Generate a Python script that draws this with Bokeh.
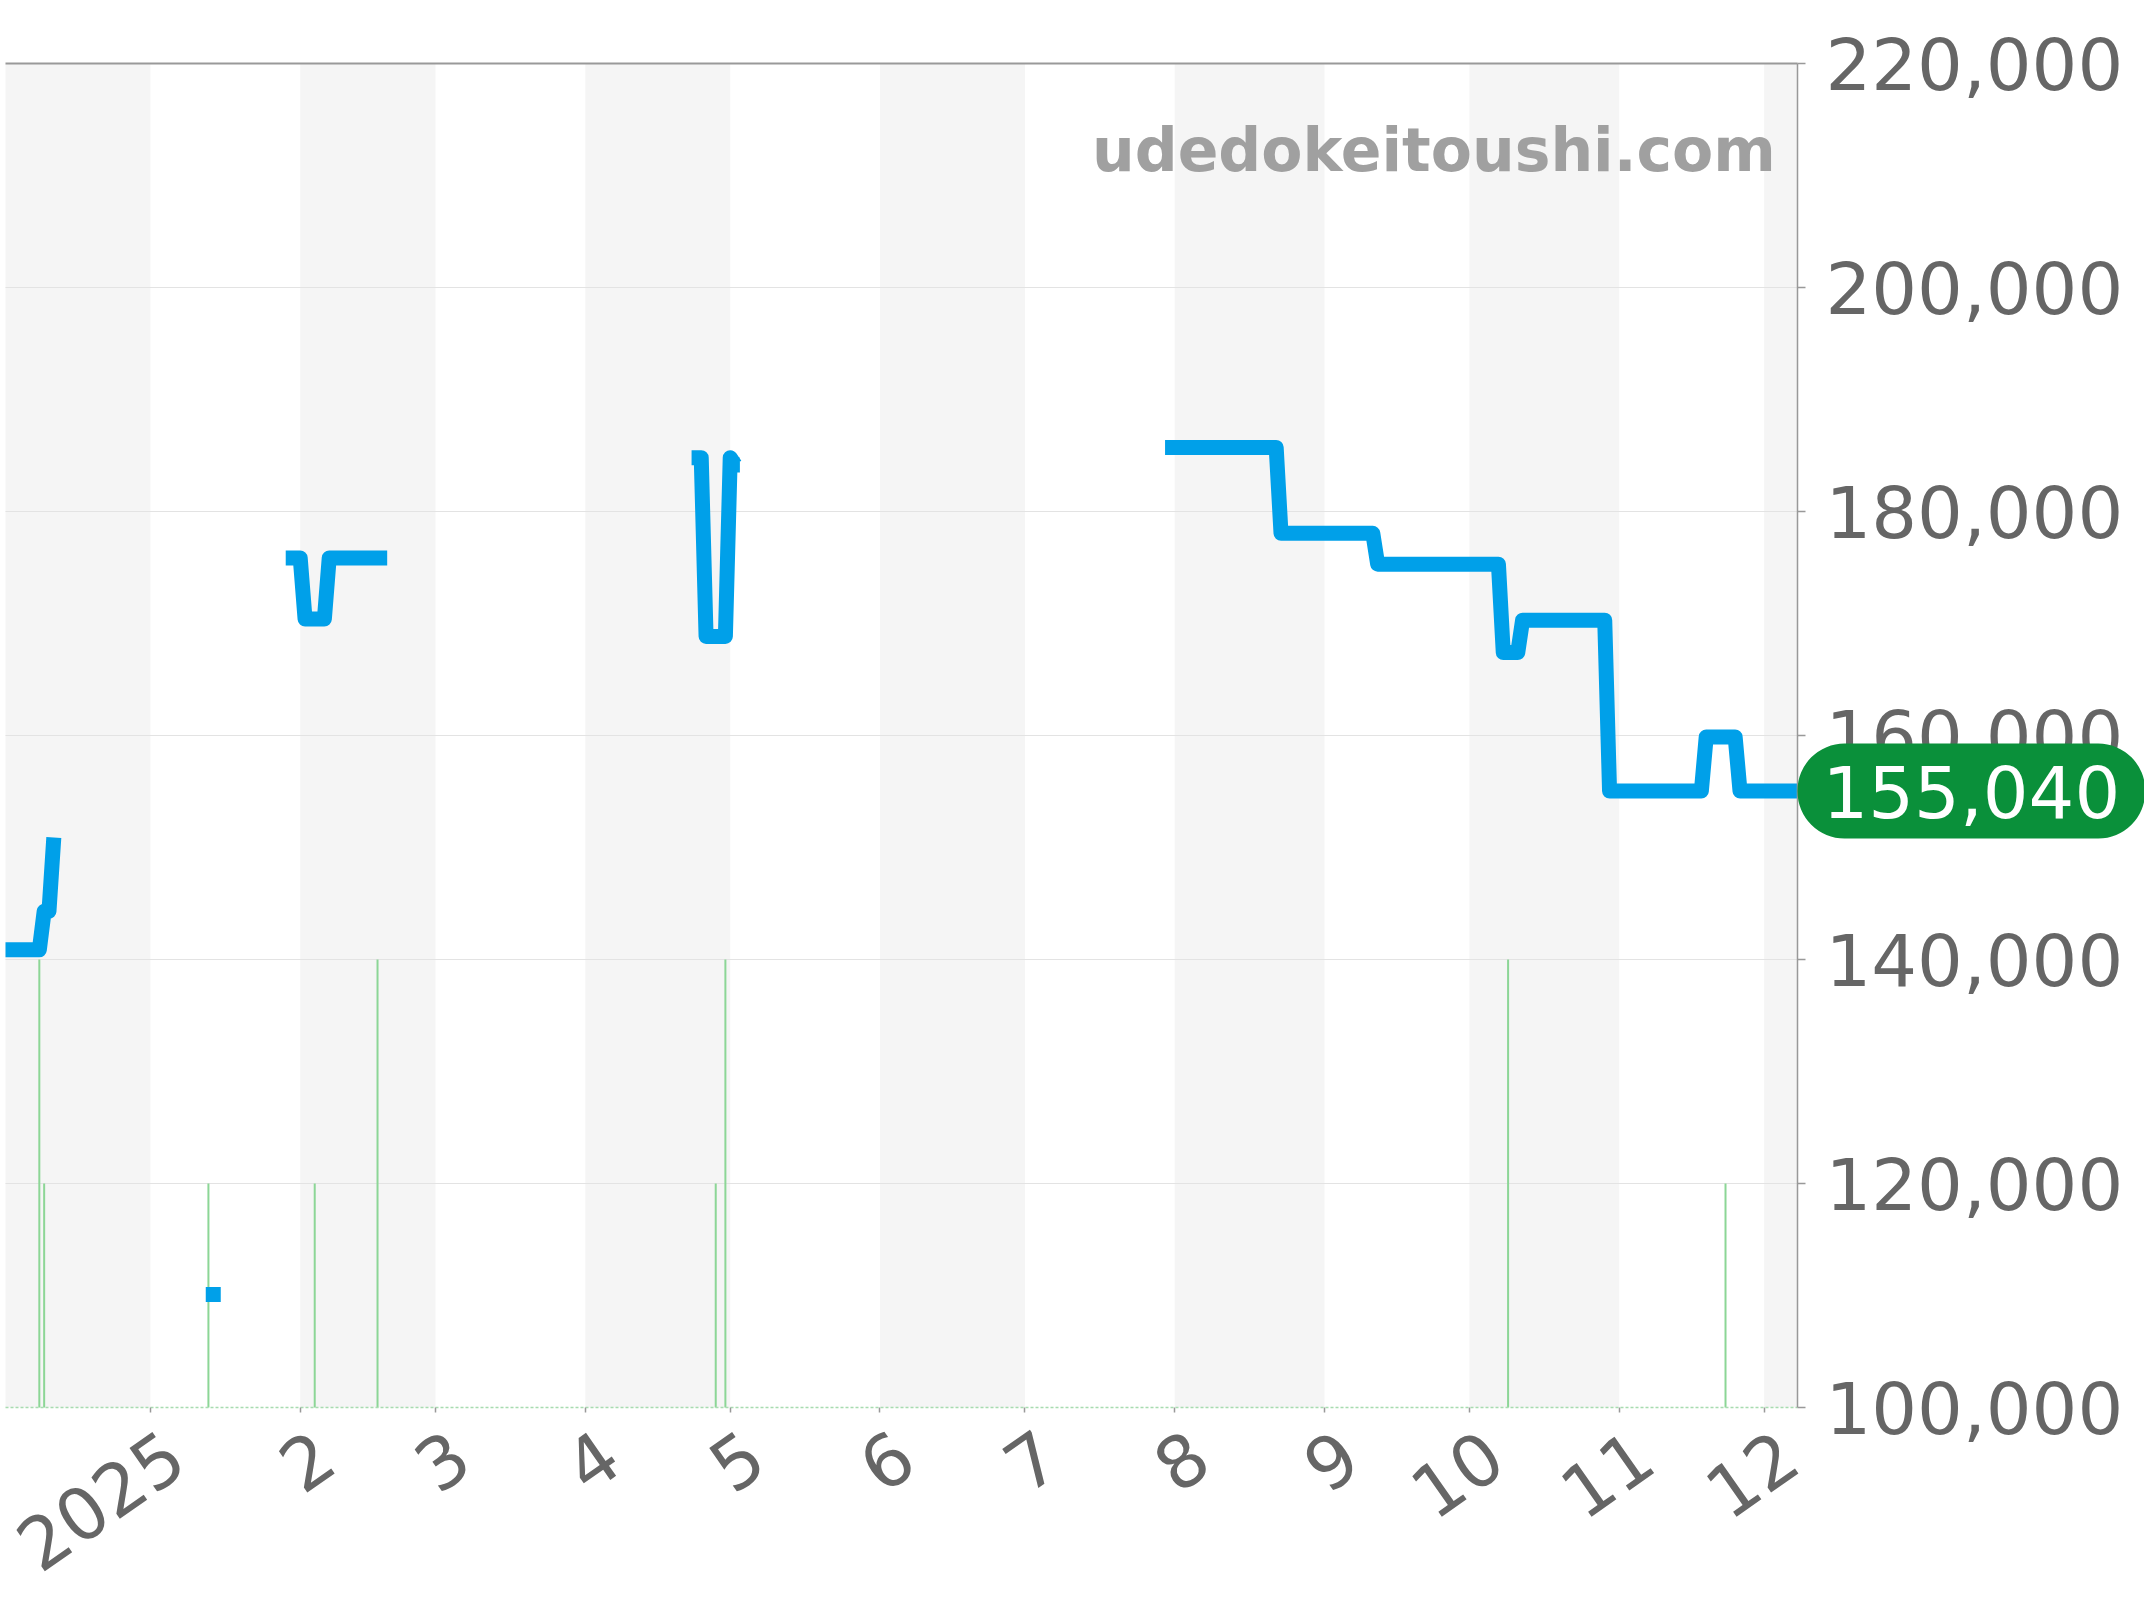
import numpy as np
import pandas as pd
from datetime import datetime
from bokeh.plotting import figure
from bokeh.models import (ColumnDataSource, Range1d, LinearAxis, FixedTicker, CustomJSTickFormatter,
                          NumeralTickFormatter, BoxAnnotation, Label)
from bokeh.embed import file_html
from bokeh.resources import INLINE

nan = np.nan

# ---- price series (gaps marked with nan) ----
price_dates = [
    "2024-12-02", "2024-12-09", "2024-12-10", "2024-12-11", "2024-12-12", "2024-12-12",
    "2025-01-29", "2025-02-01", "2025-02-02", "2025-02-06", "2025-02-07", "2025-02-19", "2025-02-19",
    "2025-04-23", "2025-04-25", "2025-04-26", "2025-04-30", "2025-05-01", "2025-05-02", "2025-05-03", "2025-05-03",
    "2025-07-30", "2025-08-22", "2025-08-23", "2025-09-11", "2025-09-12", "2025-10-07",
    "2025-10-08", "2025-10-11", "2025-10-12", "2025-10-29", "2025-10-30", "2025-11-18",
    "2025-11-19", "2025-11-25", "2025-11-26", "2025-12-08",
]
price_values = [
    140870, 140870, 144300, 144300, 150900, nan,
    175850, 175850, 170400, 170400, 175850, 175850, nan,
    184800, 184800, 168850, 168850, 184800, 184150, 184150, nan,
    185720, 185720, 178050, 178050, 175300, 175300,
    167400, 167400, 170300, 170300, 155040, 155040,
    159860, 159860, 155040, 155040,
]

# isolated single-day points
single_dates = ["2025-01-14"]
single_values = [110100]

# ---- listing counts (green bars, secondary scale) ----
count_dates = ["2024-12-09", "2024-12-10", "2025-01-13", "2025-02-04", "2025-02-17",
               "2025-04-28", "2025-04-30", "2025-10-09", "2025-11-23"]
count_values = [2, 1, 1, 1, 2, 1, 2, 2, 1]

# ---- axes ----
month_ticks = ["2025-01-01", "2025-02-01", "2025-03-01", "2025-04-01", "2025-05-01", "2025-06-01",
               "2025-07-01", "2025-08-01", "2025-09-01", "2025-10-01", "2025-11-01", "2025-12-01"]
tick_labels = ["2025", "2", "3", "4", "5", "6", "7", "8", "9", "10", "11", "12"]
y_ticks = [100000, 120000, 140000, 160000, 180000, 200000, 220000]

band_starts = ["2024-12-01", "2025-02-01", "2025-04-01", "2025-06-01", "2025-08-01", "2025-10-01", "2025-12-01"]
band_ends = ["2025-01-01", "2025-03-01", "2025-05-01", "2025-07-01", "2025-09-01", "2025-11-01", "2026-01-01"]

watermark = "udedokeitoushi.com"

DAY_MS = 86400000.0


def ms(d):
    return (pd.Timestamp(d) - pd.Timestamp("1970-01-01")).total_seconds() * 1000.0


# ---- layout: the frame covers the whole canvas; the plotting window sits inside it ----
x_start = datetime(2024, 12, 2, 0, 0)
x_end = datetime(2025, 12, 7, 21, 36)
y_lo, y_hi = y_ticks[0], y_ticks[-1]
W, H = 2144, 1600
LEFT, TOP, BOTTOM = 5, 63, 193          # margins of the plotting window inside the canvas
PLOT_W, PLOT_H = 1792, 1344             # size of the plotting window in px
COUNT_UNIT = 20000                      # one listing = one grid step on the price scale

px_per_day = PLOT_W / ((ms(x_end) - ms(x_start)) / DAY_MS)
px_per_yen = PLOT_H / (y_hi - y_lo)
frame_x0 = ms(x_start) - LEFT / px_per_day * DAY_MS
frame_x1 = ms(x_start) + (W - LEFT) / px_per_day * DAY_MS
frame_y0 = y_lo - BOTTOM / px_per_yen
frame_y1 = y_hi + TOP / px_per_yen
label_shift_ms = 25 / px_per_day * DAY_MS   # rotated month labels sit ~25px right of their tick

p = figure(width=W, height=H, x_axis_type="datetime", y_axis_location="right",
           x_range=Range1d(frame_x0, frame_x1), y_range=Range1d(frame_y0, frame_y1),
           output_backend="svg", toolbar_location=None,
           min_border_left=0, min_border_right=0, min_border_top=0, min_border_bottom=0,
           background_fill_color="white", border_fill_color="white", outline_line_color=None)
p.extra_y_ranges = {"count": Range1d((frame_y0 - y_lo) / COUNT_UNIT, (frame_y1 - y_lo) / COUNT_UNIT)}

# shaded alternate months
for s, e in zip(band_starts, band_ends):
    p.add_layout(BoxAnnotation(left=max(ms(s), ms(x_start)), right=min(ms(e), ms(x_end)),
                               bottom=y_lo, top=y_hi,
                               fill_color="#f5f5f5", fill_alpha=1.0, line_color=None, level="image"))

# horizontal grid lines (limited to the plotting window)
p.xgrid.grid_line_color = None
p.ygrid.grid_line_color = None
grid_vals = y_ticks[1:-1]
p.segment(x0=[ms(x_start)] * len(grid_vals), x1=[ms(x_end)] * len(grid_vals), y0=grid_vals, y1=grid_vals,
          line_color="#e3e3e3", line_width=1, level="underlay")

# right price axis, anchored at the end of the plotting window
ya = p.yaxis[0]
ya.fixed_location = ms(x_end)
ya.bounds = (y_lo, y_hi)
ya.ticker = FixedTicker(ticks=y_ticks)
ya.formatter = NumeralTickFormatter(format="0,0")
ya.major_label_text_font_size = "72px"
ya.major_label_text_font = "DejaVu Sans"
ya.major_label_text_color = "#666666"
ya.axis_line_color = "#999999"
ya.axis_line_width = 1.5
ya.major_tick_line_color = "#999999"
ya.major_tick_line_width = 1.5
ya.major_tick_out = 8
ya.major_tick_in = 0
ya.minor_tick_line_color = None
ya.major_label_standoff = 20

# bottom x axis: dotted baseline, month tick marks (minor), rotated labels (major, hidden marks)
month_ms = [ms(d) for d in month_ticks]
label_ms = [m + label_shift_ms for m in month_ms]
xa = p.xaxis[0]
xa.fixed_location = y_lo
xa.bounds = (ms(x_start), ms(x_end))
xa.ticker = FixedTicker(ticks=label_ms, minor_ticks=month_ms)
xa.formatter = CustomJSTickFormatter(args=dict(pos=label_ms, labels=tick_labels), code="""
    let best = 0;
    for (let i = 0; i < pos.length; i++) {
        if (Math.abs(pos[i] - tick) < Math.abs(pos[best] - tick)) best = i;
    }
    return labels[best];
""")
xa.axis_line_color = "#a8dcb0"
xa.axis_line_width = 1.5
xa.axis_line_dash = "3 2"
xa.major_tick_line_color = None
xa.major_tick_out = 0
xa.major_tick_in = 0
xa.minor_tick_line_color = "#999999"
xa.minor_tick_line_width = 1.5
xa.minor_tick_out = 5
xa.minor_tick_in = 0
xa.major_label_orientation = 0.611
xa.major_label_standoff = 35
xa.major_label_text_font_size = "72px"
xa.major_label_text_font = "DejaVu Sans"
xa.major_label_text_color = "#666666"

# top border line of the plotting window
top_axis = LinearAxis(ticker=FixedTicker(ticks=[]), bounds=(ms(x_start), ms(x_end)), fixed_location=y_hi,
                      axis_line_color="#999999", axis_line_width=2,
                      major_tick_line_color=None, minor_tick_line_color=None)
p.add_layout(top_axis, "above")

# count bars
cnt_src = ColumnDataSource(dict(x=pd.to_datetime(count_dates), y0=[0] * len(count_values), y1=count_values))
p.segment(x0="x", y0="y0", x1="x", y1="y1", source=cnt_src, y_range_name="count",
          line_color="#8cd696", line_width=2)

# price line
src = ColumnDataSource(dict(x=pd.to_datetime(price_dates), y=np.array(price_values, dtype=float)))
p.line("x", "y", source=src, line_color="#00a0e9", line_width=15, line_join="round", line_cap="butt")
p.scatter(x=pd.to_datetime(single_dates), y=single_values, marker="square", size=15,
          color="#00a0e9", line_color=None)

# watermark
p.add_layout(Label(x=ms("2025-12-03 09:40"), y=212300, text=watermark, text_align="right",
                   text_baseline="alphabetic", text_font="DejaVu Sans", text_font_style="bold",
                   text_font_size="60px", text_color="#a0a0a0"))

# last price badge at the price axis
last_price = int(price_values[-1])
p.add_layout(Label(x=ms(x_end), y=last_price, text=f"{last_price:,}", text_align="left",
                   text_baseline="middle", text_font="DejaVu Sans", text_font_size="72px",
                   text_color="white", background_fill_color="#0a903a", background_fill_alpha=1.0,
                   border_radius=47, padding=(25, 21)))

open("out.html", "w").write(file_html(p, INLINE))
